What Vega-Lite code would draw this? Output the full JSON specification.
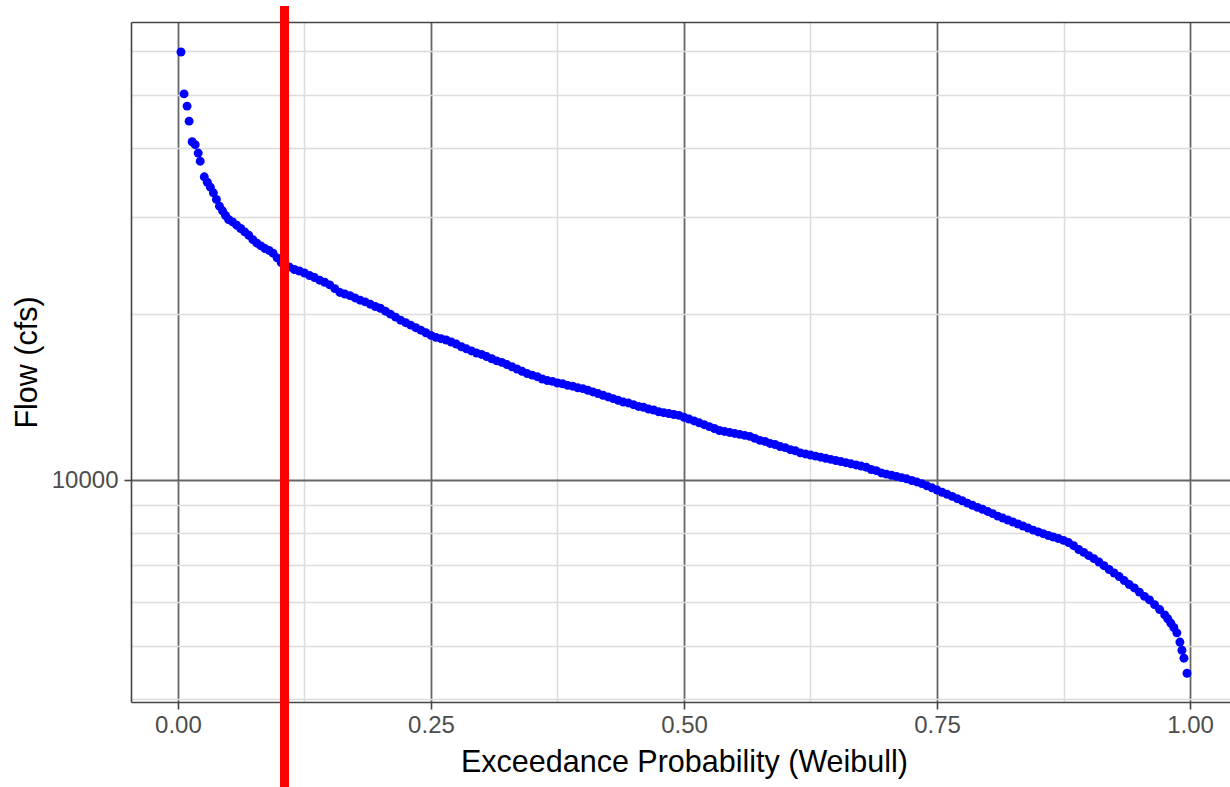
{
  "$schema": "https://vega.github.io/schema/vega-lite/v6.json",
  "width": 1099,
  "height": 680,
  "autosize": {"type": "none"},
  "padding": {"left": 131, "top": 22, "right": 0, "bottom": 85},
  "background": "white",
  "config": {"view": {"stroke": null}, "font": "Liberation Sans"},
  "data": {"values": [
    {"p":0.003,"q":59800},{"p":0.006,"q":50200},{"p":0.009,"q":47700},{"p":0.011,"q":44800},{"p":0.014,"q":41100},
    {"p":0.017,"q":40600},{"p":0.020,"q":39200},{"p":0.022,"q":37900},{"p":0.026,"q":35500},{"p":0.029,"q":34700},
    {"p":0.032,"q":34000},{"p":0.035,"q":33200},{"p":0.038,"q":32300},{"p":0.041,"q":31400},{"p":0.044,"q":30800},
    {"p":0.047,"q":30200},{"p":0.050,"q":29700},{"p":0.054,"q":29400},{"p":0.058,"q":29000},{"p":0.062,"q":28600},
    {"p":0.066,"q":28200},{"p":0.070,"q":27800},{"p":0.074,"q":27300},{"p":0.078,"q":26900},{"p":0.082,"q":26600},
    {"p":0.086,"q":26300},{"p":0.090,"q":26100},{"p":0.094,"q":25800},{"p":0.098,"q":25300},{"p":0.102,"q":24800},
    {"p":0.106,"q":24500},{"p":0.110,"q":24350},{"p":0.115,"q":24100},{"p":0.120,"q":23950},{"p":0.125,"q":23750},
    {"p":0.130,"q":23500},{"p":0.135,"q":23300},{"p":0.140,"q":23050},{"p":0.145,"q":22850},{"p":0.150,"q":22600},
    {"p":0.155,"q":22250},{"p":0.160,"q":21900},{"p":0.165,"q":21750},{"p":0.170,"q":21600},{"p":0.175,"q":21400},
    {"p":0.180,"q":21200},{"p":0.185,"q":21050},{"p":0.190,"q":20850},{"p":0.195,"q":20650},{"p":0.200,"q":20500},
    {"p":0.205,"q":20250},{"p":0.210,"q":20000},{"p":0.215,"q":19750},{"p":0.220,"q":19500},{"p":0.225,"q":19300},
    {"p":0.230,"q":19100},{"p":0.235,"q":18900},{"p":0.240,"q":18700},{"p":0.245,"q":18500},{"p":0.250,"q":18300},
    {"p":0.255,"q":18150},{"p":0.260,"q":18050},{"p":0.265,"q":17950},{"p":0.270,"q":17800},{"p":0.275,"q":17650},
    {"p":0.280,"q":17450},{"p":0.285,"q":17300},{"p":0.290,"q":17150},{"p":0.295,"q":17000},{"p":0.300,"q":16900},
    {"p":0.305,"q":16750},{"p":0.310,"q":16600},{"p":0.315,"q":16450},{"p":0.320,"q":16350},{"p":0.325,"q":16200},
    {"p":0.330,"q":16050},{"p":0.335,"q":15900},{"p":0.340,"q":15750},{"p":0.345,"q":15600},{"p":0.350,"q":15500},
    {"p":0.355,"q":15400},{"p":0.360,"q":15250},{"p":0.365,"q":15150},{"p":0.370,"q":15100},{"p":0.375,"q":15000},
    {"p":0.380,"q":14950},{"p":0.385,"q":14850},{"p":0.390,"q":14800},{"p":0.395,"q":14700},{"p":0.400,"q":14650},
    {"p":0.405,"q":14550},{"p":0.410,"q":14450},{"p":0.415,"q":14350},{"p":0.420,"q":14250},{"p":0.425,"q":14150},
    {"p":0.430,"q":14050},{"p":0.435,"q":13950},{"p":0.440,"q":13850},{"p":0.445,"q":13800},{"p":0.450,"q":13700},
    {"p":0.455,"q":13600},{"p":0.460,"q":13550},{"p":0.465,"q":13450},{"p":0.470,"q":13400},{"p":0.475,"q":13300},
    {"p":0.480,"q":13250},{"p":0.485,"q":13200},{"p":0.490,"q":13150},{"p":0.495,"q":13100},{"p":0.500,"q":13000},
    {"p":0.505,"q":12900},{"p":0.510,"q":12800},{"p":0.515,"q":12700},{"p":0.520,"q":12600},{"p":0.525,"q":12500},
    {"p":0.530,"q":12400},{"p":0.535,"q":12300},{"p":0.540,"q":12250},{"p":0.545,"q":12200},{"p":0.550,"q":12150},
    {"p":0.555,"q":12100},{"p":0.560,"q":12050},{"p":0.565,"q":12000},{"p":0.570,"q":11900},{"p":0.575,"q":11800},
    {"p":0.580,"q":11750},{"p":0.585,"q":11650},{"p":0.590,"q":11600},{"p":0.595,"q":11500},{"p":0.600,"q":11450},
    {"p":0.605,"q":11350},{"p":0.610,"q":11300},{"p":0.615,"q":11200},{"p":0.620,"q":11150},{"p":0.625,"q":11100},
    {"p":0.630,"q":11050},{"p":0.635,"q":11000},{"p":0.640,"q":10950},{"p":0.645,"q":10900},{"p":0.650,"q":10850},
    {"p":0.655,"q":10800},{"p":0.660,"q":10750},{"p":0.665,"q":10700},{"p":0.670,"q":10650},{"p":0.675,"q":10600},
    {"p":0.680,"q":10550},{"p":0.685,"q":10450},{"p":0.690,"q":10400},{"p":0.695,"q":10300},{"p":0.700,"q":10250},
    {"p":0.705,"q":10200},{"p":0.710,"q":10150},{"p":0.715,"q":10100},{"p":0.720,"q":10050},{"p":0.725,"q":9980},
    {"p":0.730,"q":9920},{"p":0.735,"q":9850},{"p":0.740,"q":9760},{"p":0.745,"q":9680},{"p":0.750,"q":9590},
    {"p":0.755,"q":9500},{"p":0.760,"q":9420},{"p":0.765,"q":9340},{"p":0.770,"q":9250},{"p":0.775,"q":9170},
    {"p":0.780,"q":9080},{"p":0.785,"q":9000},{"p":0.790,"q":8920},{"p":0.795,"q":8850},{"p":0.800,"q":8770},
    {"p":0.805,"q":8690},{"p":0.810,"q":8600},{"p":0.815,"q":8530},{"p":0.820,"q":8460},{"p":0.825,"q":8390},
    {"p":0.830,"q":8320},{"p":0.835,"q":8250},{"p":0.840,"q":8180},{"p":0.845,"q":8110},{"p":0.850,"q":8050},
    {"p":0.855,"q":7990},{"p":0.860,"q":7930},{"p":0.865,"q":7880},{"p":0.870,"q":7830},{"p":0.875,"q":7770},
    {"p":0.880,"q":7700},{"p":0.885,"q":7600},{"p":0.890,"q":7480},{"p":0.895,"q":7390},{"p":0.900,"q":7290},
    {"p":0.905,"q":7200},{"p":0.910,"q":7100},{"p":0.915,"q":6990},{"p":0.920,"q":6880},{"p":0.925,"q":6780},
    {"p":0.930,"q":6680},{"p":0.935,"q":6570},{"p":0.940,"q":6460},{"p":0.945,"q":6370},{"p":0.950,"q":6260},
    {"p":0.955,"q":6150},{"p":0.960,"q":6060},{"p":0.965,"q":5940},{"p":0.970,"q":5820},{"p":0.975,"q":5690},
    {"p":0.978,"q":5600},{"p":0.981,"q":5500},{"p":0.984,"q":5400},{"p":0.987,"q":5280},{"p":0.990,"q":5080},
    {"p":0.992,"q":4910},{"p":0.994,"q":4750},{"p":0.997,"q":4460}
  ]},
  "resolve": {"scale": {"x": "shared", "y": "shared"}, "axis": {"x": "independent", "y": "independent"}},
  "layer": [
    {
      "mark": {"type": "circle", "opacity": 0},
      "encoding": {
        "x": {"field": "p", "type": "quantitative",
          "scale": {"domain": [-0.0464, 1.0395], "nice": false, "zero": false},
          "axis": {"orient": "top", "values": [0.125, 0.375, 0.625, 0.875], "grid": true, "gridColor": "#dcdcdc", "gridWidth": 1.5,
            "labels": false, "ticks": false, "domain": true, "domainColor": "#444444", "domainWidth": 1.6, "title": null}},
        "y": {"field": "q", "type": "quantitative",
          "scale": {"type": "log", "domain": [3955, 67790], "nice": false},
          "axis": {"orient": "right", "values": [4000, 5000, 6000, 7000, 8000, 9000, 20000, 30000, 40000, 50000, 60000],
            "grid": true, "gridColor": "#dcdcdc", "gridWidth": 1.5, "labels": false, "ticks": false, "domain": false, "title": null}}
      }
    },
    {
      "mark": {"type": "circle", "size": 80, "color": "#0000FF", "opacity": 1},
      "encoding": {
        "x": {"field": "p", "type": "quantitative",
          "scale": {"domain": [-0.0464, 1.0395], "nice": false, "zero": false},
          "axis": {"orient": "bottom", "values": [0, 0.25, 0.5, 0.75, 1], "format": ".2f", "grid": true, "gridColor": "#666666", "gridWidth": 1.8,
            "domain": true, "domainColor": "#444444", "domainWidth": 1.6, "ticks": true, "tickColor": "#444444", "tickWidth": 1.6, "tickSize": 7,
            "labelFont": "Liberation Sans", "labelFontSize": 24, "labelColor": "#4D4D4D", "labelPadding": 4, "labelFlush": false, "labelOverlap": false,
            "title": "Exceedance Probability (Weibull)", "titleFont": "Liberation Sans", "titleFontSize": 30.5, "titleFontWeight": "normal", "titleColor": "#000000",
            "titleX": 553, "titleY": 69, "titleBaseline": "alphabetic", "titleAlign": "center", "titleAnchor": "middle"}},
        "y": {"field": "q", "type": "quantitative",
          "scale": {"type": "log", "domain": [3955, 67790], "nice": false},
          "axis": {"orient": "left", "values": [10000], "format": "d", "grid": true, "gridColor": "#666666", "gridWidth": 1.8,
            "domain": true, "domainColor": "#444444", "domainWidth": 1.6, "ticks": true, "tickColor": "#444444", "tickWidth": 1.6, "tickSize": 7,
            "labelFont": "Liberation Sans", "labelFontSize": 24, "labelColor": "#4D4D4D", "labelPadding": 6,
            "title": "Flow (cfs)", "titleFont": "Liberation Sans", "titleFontSize": 30.5, "titleFontWeight": "normal", "titleColor": "#000000",
            "titleX": -95, "titleY": 340, "titleAngle": -90, "titleBaseline": "alphabetic", "titleAlign": "center", "titleAnchor": "middle"}}
      }
    },
    {
      "mark": {"type": "rule", "color": "#FF0000", "strokeWidth": 8, "clip": false},
      "encoding": {
        "x": {"datum": 0.105, "type": "quantitative", "axis": null},
        "y": {"datum": 72500, "type": "quantitative", "axis": null},
        "y2": {"datum": 2700}
      }
    }
  ]
}
